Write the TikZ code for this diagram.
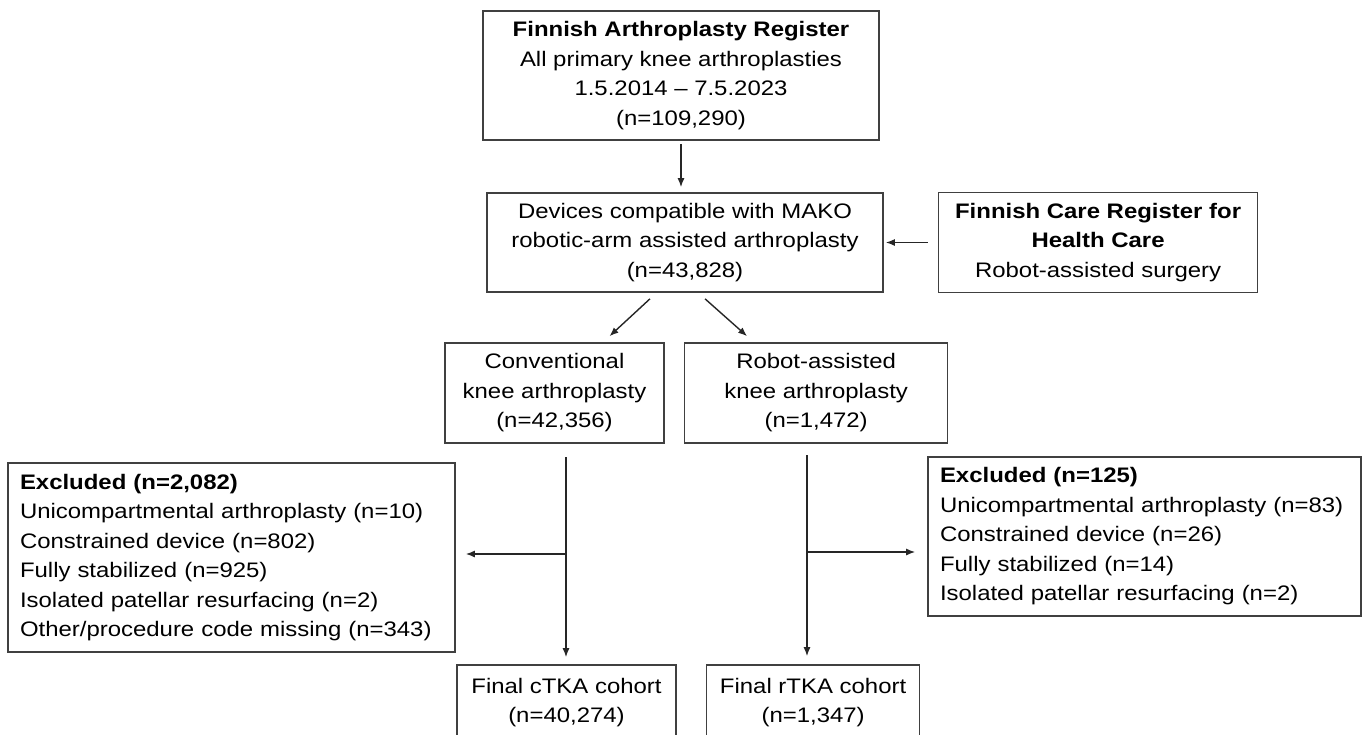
\documentclass[tikz,border=0pt]{standalone}
\usepackage{fontspec}
\setmainfont{Liberation Sans}[FakeStretch=1.14]
\usetikzlibrary{positioning, arrows.meta}
\tikzset{
x=1pt, y=-1pt, % one unit is one pixel of the layout, y runs downwards
>={Latex[length=9pt,width=7pt]}, % small filled arrow heads
box/.style={draw=black!75, line width=1.6pt, align=center, inner sep=0pt,
  font=\fontsize{21}{29.5}\selectfont}, % plain framed box
listbox/.style={box, align=left, inner xsep=12pt}, % box with a left aligned list
link/.style={->, line width=1.4pt, black!85}, % the connectors
}

\begin{document}
\begin{tikzpicture}
        \useasboundingbox (0,0) rectangle (1368,734);
        \clip (0,0) rectangle (1368,734);

        \node[box, minimum width=396pt, minimum height=129pt] (far) at (681,75.5)
          {\textbf{Finnish Arthroplasty Register}\\All primary knee arthroplasties\\1.5.2014 -- 7.5.2023\\(n=109,290)};
        \node[box, minimum width=396pt, minimum height=99pt] (mako) at (685,242.5)
          {Devices compatible with MAKO\\robotic-arm assisted arthroplasty\\(n=43,828)};
        \node[box, minimum width=319pt, minimum height=100pt, right=54pt of mako] (care)
          {\textbf{Finnish Care Register for}\\\textbf{Health Care}\\Robot-assisted surgery};
        \node[box, minimum width=219pt, minimum height=100pt] (conv) at (554.5,393)
          {Conventional\\knee arthroplasty\\(n=42,356)};
        \node[box, minimum width=263pt, minimum height=100pt, right=19pt of conv] (robot)
          {Robot-assisted\\knee arthroplasty\\(n=1,472)};
        \node[listbox, text width=423pt, minimum height=189pt] (exclL) at (231.5,557.5)
          {\textbf{Excluded (n=2,082)}\\Unicompartmental arthroplasty (n=10)\\Constrained device (n=802)\\Fully stabilized (n=925)\\Isolated patellar resurfacing (n=2)\\Other/procedure code missing (n=343)};
        \node[listbox, text width=409pt, minimum height=159pt] (exclR) at (1144.5,536.5)
          {\textbf{Excluded (n=125)}\\Unicompartmental arthroplasty (n=83)\\Constrained device (n=26)\\Fully stabilized (n=14)\\Isolated patellar resurfacing (n=2)};
        \node[box, minimum width=219pt, minimum height=75pt] (finC) at (566.5,702.5)
          {Final cTKA cohort\\(n=40,274)};
        \node[box, minimum width=213pt, minimum height=75pt, right=29pt of finC] (finR)
          {Final rTKA cohort\\(n=1,347)};

        \coordinate (cTop) at (566,457);
        \coordinate (cSplit) at (566,554);
        \coordinate (rTop) at (807,455);
        \coordinate (rSplit) at (807,552);

        \draw[link, shorten <=3pt, shorten >=5pt] (far.south) -- (far.south |- mako.north);
        \draw[link, shorten <=10pt, shorten >=2pt] (care.west) -- (mako.east);
        \draw[link] ([xshift=-35pt,yshift=-6pt]mako.south) -- ([xshift=55pt,yshift=6pt]conv.north);
        \draw[link] ([xshift=20pt,yshift=-6pt]mako.south) -- ([xshift=-69pt,yshift=6pt]robot.north);
        \draw[link, shorten >=7pt] (cTop) -- (cTop |- finC.north);
        \draw[link, shorten >=10pt] (cSplit) -- (cSplit -| exclL.east);
        \draw[link, shorten >=8pt] (rTop) -- (rTop |- finR.north);
        \draw[link, shorten >=12pt] (rSplit) -- (rSplit -| exclR.west);
      \end{tikzpicture}
\end{document}
